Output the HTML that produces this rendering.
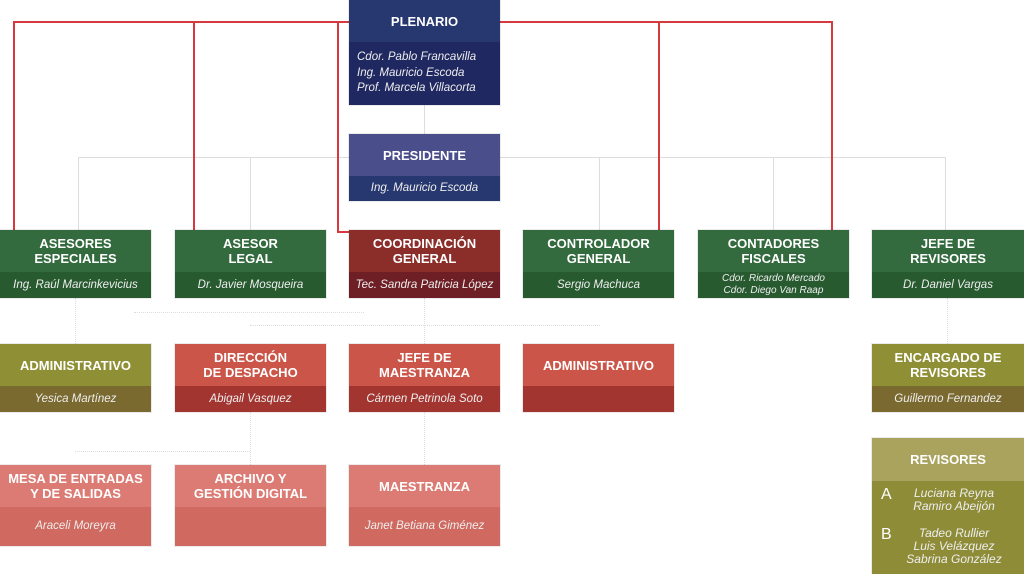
<!DOCTYPE html>
<html><head><meta charset="utf-8"><style>
body{margin:0;width:1024px;height:574px;background:#fff;position:relative;overflow:hidden;font-family:"Liberation Sans",sans-serif}
.b{position:absolute;width:151px;box-shadow:0 0 0 1px rgba(0,0,0,0.08)}
.t{color:#fff;font-weight:bold;font-size:13px;line-height:15px;text-align:center;display:flex;align-items:center;justify-content:center}
.s{color:#eee;font-style:italic;font-size:11.5px;line-height:13px;text-align:center;display:flex;align-items:center;justify-content:center;flex-direction:column}
.l{position:absolute}
</style></head><body>
<div class="l" style="left:78px;top:157px;width:868px;height:1px;background:#ddd"></div>
<div class="l" style="left:78px;top:157px;width:1px;height:73px;background:#ddd"></div>
<div class="l" style="left:250px;top:157px;width:1px;height:73px;background:#ddd"></div>
<div class="l" style="left:599px;top:157px;width:1px;height:73px;background:#ddd"></div>
<div class="l" style="left:773px;top:157px;width:1px;height:73px;background:#ddd"></div>
<div class="l" style="left:945px;top:157px;width:1px;height:73px;background:#ddd"></div>
<div class="l" style="left:424px;top:105px;width:1px;height:29px;background:#ddd"></div>
<div class="l" style="left:75px;top:298px;width:0;height:46px;border-left:1px dotted #ddd"></div>
<div class="l" style="left:134px;top:312px;width:230px;height:0;border-top:1px dotted #ddd"></div>
<div class="l" style="left:250px;top:325px;width:350px;height:0;border-top:1px dotted #ddd"></div>
<div class="l" style="left:424px;top:298px;width:0;height:46px;border-left:1px dotted #ddd"></div>
<div class="l" style="left:424px;top:412px;width:0;height:53px;border-left:1px dotted #ddd"></div>
<div class="l" style="left:250px;top:412px;width:0;height:53px;border-left:1px dotted #ddd"></div>
<div class="l" style="left:75px;top:451px;width:175px;height:0;border-top:1px dotted #ddd"></div>
<div class="l" style="left:947px;top:298px;width:0;height:46px;border-left:1px dotted #ddd"></div>
<div class="l" style="left:13px;top:21px;width:336px;height:2px;background:#d63a3f"></div>
<div class="l" style="left:500px;top:21px;width:333px;height:2px;background:#d63a3f"></div>
<div class="l" style="left:13px;top:21px;width:2px;height:209px;background:#d63a3f"></div>
<div class="l" style="left:193px;top:21px;width:2px;height:209px;background:#d63a3f"></div>
<div class="l" style="left:337px;top:21px;width:2px;height:211px;background:#d63a3f"></div>
<div class="l" style="left:337px;top:231px;width:12px;height:2px;background:#d63a3f"></div>
<div class="l" style="left:658px;top:21px;width:2px;height:209px;background:#d63a3f"></div>
<div class="l" style="left:831px;top:21px;width:2px;height:209px;background:#d63a3f"></div>

<div class="b" style="left:349px;top:0"><div class="t" style="height:42px;background:#27376f">PLENARIO</div><div class="s" style="height:63px;background:#1f2860;align-items:flex-start;text-align:left;padding-left:8px;box-sizing:border-box;line-height:15.5px">Cdor. Pablo Francavilla<br>Ing. Mauricio Escoda<br>Prof. Marcela Villacorta</div></div>
<div class="b" style="left:349px;top:134px"><div class="t" style="height:42px;background:#4a4e8a">PRESIDENTE</div><div class="s" style="height:25px;background:#27376f">Ing. Mauricio Escoda</div></div>

<div class="b" style="left:0;top:230px"><div class="t" style="height:42px;background:#336b3e">ASESORES<br>ESPECIALES</div><div class="s" style="height:26px;background:#285a30">Ing. Raúl Marcinkevicius</div></div>
<div class="b" style="left:175px;top:230px"><div class="t" style="height:42px;background:#336b3e">ASESOR<br>LEGAL</div><div class="s" style="height:26px;background:#285a30">Dr. Javier Mosqueira</div></div>
<div class="b" style="left:349px;top:230px"><div class="t" style="height:42px;background:#8b2e2a">COORDINACIÓN<br>GENERAL</div><div class="s" style="height:26px;background:#6e1f26">Tec. Sandra Patricia López</div></div>
<div class="b" style="left:523px;top:230px"><div class="t" style="height:42px;background:#336b3e">CONTROLADOR<br>GENERAL</div><div class="s" style="height:26px;background:#285a30">Sergio Machuca</div></div>
<div class="b" style="left:698px;top:230px"><div class="t" style="height:42px;background:#336b3e">CONTADORES<br>FISCALES</div><div class="s" style="height:26px;background:#285a30;font-size:10px;line-height:12px">Cdor. Ricardo Mercado<br>Cdor. Diego Van Raap</div></div>
<div class="b" style="left:872px;top:230px;width:152px"><div class="t" style="height:42px;background:#336b3e">JEFE DE<br>REVISORES</div><div class="s" style="height:26px;background:#285a30">Dr. Daniel Vargas</div></div>

<div class="b" style="left:0;top:344px"><div class="t" style="height:42px;background:#8f8f36">ADMINISTRATIVO</div><div class="s" style="height:26px;background:#7a6a30">Yesica Martínez</div></div>
<div class="b" style="left:175px;top:344px"><div class="t" style="height:42px;background:#cc5549">DIRECCIÓN<br>DE DESPACHO</div><div class="s" style="height:26px;background:#a33530">Abigail Vasquez</div></div>
<div class="b" style="left:349px;top:344px"><div class="t" style="height:42px;background:#cc5549">JEFE DE<br>MAESTRANZA</div><div class="s" style="height:26px;background:#a33530">Cármen Petrinola Soto</div></div>
<div class="b" style="left:523px;top:344px"><div class="t" style="height:42px;background:#cc5549">ADMINISTRATIVO</div><div class="s" style="height:26px;background:#a33530"></div></div>
<div class="b" style="left:872px;top:344px;width:152px"><div class="t" style="height:42px;background:#8f8f36">ENCARGADO DE<br>REVISORES</div><div class="s" style="height:26px;background:#7a6a30">Guillermo Fernandez</div></div>

<div class="b" style="left:0;top:465px"><div class="t" style="height:42px;background:#db7b73">MESA DE ENTRADAS<br>Y DE SALIDAS</div><div class="s" style="height:39px;background:#d0695f">Araceli Moreyra</div></div>
<div class="b" style="left:175px;top:465px"><div class="t" style="height:42px;background:#db7b73">ARCHIVO Y<br>GESTIÓN DIGITAL</div><div class="s" style="height:39px;background:#d0695f"></div></div>
<div class="b" style="left:349px;top:465px"><div class="t" style="height:42px;background:#db7b73">MAESTRANZA</div><div class="s" style="height:39px;background:#d0695f">Janet Betiana Giménez</div></div>

<div class="b" style="left:872px;top:438px;width:152px;height:136px;background:#8f8c38">
<div class="t" style="height:43px;background:#a9a35d">REVISORES</div>
<div style="position:absolute;left:9px;top:48px;color:#fff;font-size:16px">A</div>
<div class="s" style="position:absolute;left:22px;top:49px;width:120px;display:block;font-size:12px">Luciana Reyna<br>Ramiro Abeijón</div>
<div style="position:absolute;left:9px;top:88px;color:#fff;font-size:16px">B</div>
<div class="s" style="position:absolute;left:22px;top:89px;width:120px;display:block;font-size:12px">Tadeo Rullier<br>Luis Velázquez<br>Sabrina González</div>
</div>
</body></html>
